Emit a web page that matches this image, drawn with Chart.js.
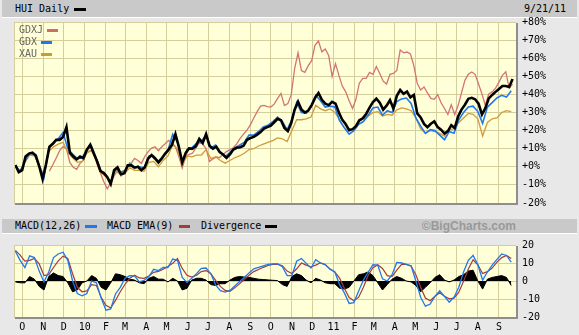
<!DOCTYPE html>
<html>
<head>
<meta charset="utf-8">
<script src="https://cdn.jsdelivr.net/npm/chart.js@4.4.1/dist/chart.umd.min.js"></script>
<style>
  html, body { margin: 0; padding: 0; background: #e8e8e8; }
  #wrap { position: relative; width: 579px; height: 335px; background: #e8e8e8; overflow: hidden;
          font-family: "DejaVu Sans Mono", monospace; font-size: 10px; color: #000; }
  .bar { position: absolute; left: 2px; right: 2px; background: #c9c9c9; border-bottom: 1px solid #fff; }
  .txt { position: absolute; line-height: 12px; white-space: pre; }
  .sw { position: absolute; height: 3px; }
  canvas { position: absolute; left: 0; }
</style>
</head>
<body>
<div id="wrap">
  <div class="bar" style="top:0;height:17px"></div>
  <div class="txt" style="left:15px;top:3px">HUI Daily</div>
  <div class="sw" style="left:74px;top:8px;width:12px;background:#000"></div>
  <div class="txt" style="left:524px;top:3px">9/21/11</div>

  <canvas id="priceChart" width="579" height="215" style="top:0"></canvas>

  <div class="txt" style="left:19px;top:24px;color:#666">GDXJ</div>
  <div class="sw" style="left:47px;top:29px;width:11px;background:#cf6b6b"></div>
  <div class="txt" style="left:19px;top:36px;color:#666">GDX</div>
  <div class="sw" style="left:41px;top:41px;width:11px;background:#1f78ee"></div>
  <div class="txt" style="left:19px;top:48px;color:#666">XAU</div>
  <div class="sw" style="left:41px;top:53px;width:11px;background:#cc9933"></div>

  <div class="bar" style="top:219px;height:14px"></div>
  <div class="txt" style="left:15px;top:220px">MACD(12,26)</div>
  <div class="sw" style="left:85px;top:225px;width:12px;background:#1f78ee"></div>
  <div class="txt" style="left:107px;top:220px">MACD EMA(9)</div>
  <div class="sw" style="left:179px;top:225px;width:11px;background:#a33b3b"></div>
  <div class="txt" style="left:201px;top:220px">Divergence</div>
  <div class="sw" style="left:265px;top:225px;width:12px;background:#000"></div>
  <div class="txt" style="right:63px;top:219px;font:bold 12px 'Liberation Sans', sans-serif;color:#999">©BigCharts.com</div>

  <canvas id="macdChart" width="579" height="102" style="top:233px"></canvas>
</div>

<script>
// Sep 21 2009 -> Sep 21 2011, % change vs. start
const startDate = new Date(2009, 8, 21);
const fineStep = 5;  // HUI and GDXJ sampled every 5 days
const stepDays = 7;  // other series weekly

const hui = [
  1.0, -3.0, -1.9, 5.7, 7.3, 7.8, 6.2, 0.3, -6.8, 1.4,
  11.1, 12.7, 14.9, 14.9, 16.5, 21.9, 7.8, 5.7, 4.1, 5.7,
  4.8, 9.5, 12.2, 7.5, 3.0, -2.4, -3.5, -5.7, -9.5, -1.9,
  -0.3, -4.1, -3.5, 0.8, 0.8, -0.5, 0, -1.9, -0.3, 4.6,
  6.5, 4.6, 2.4, 4.6, 7.3, 9.5, 12.2, 18.1, 11.1, 2.4,
  7.5, 10.2, 10.0, 11.4, 15.4, 13.2, 18.1, 11.6, 10.0, 11.1,
  8.1, 6.8, 4.9, 6.8, 9.5, 10.5, 10.8, 11.6, 14.9, 15.9,
  16.5, 17.8, 19.2, 21.1, 21.9, 22.7, 24.6, 26.5, 25.7, 21.4,
  19.7, 24.1, 31.6, 35.9, 31.6, 30.0, 31.1, 34.1, 38.1, 40.8,
  37.0, 34.9, 34.1, 35.9, 34.9, 30.0, 25.9, 23.5, 20.3, 20.8,
  22.4, 25.7, 26.8, 29.2, 32.7, 35.7, 37.6, 35.4, 31.6, 33.8,
  36.8, 32.2, 39.2, 42.4, 40.3, 41.6, 38.4, 39.7, 29.5, 27.3,
  23.7, 21.9, 23.8, 25.1, 21.9, 20.5, 18.4, 19.7, 23.0, 21.4,
  27.8, 31.6, 34.3, 37.6, 38.1, 37.3, 34.9, 28.9, 32.4, 37.8,
  39.7, 41.4, 43.0, 44.6, 44.6, 44.1, 48.5
];
// GDXJ starts trading in Nov 2009
const gdxj = [
  null, null, null, null, null, null, null, null, null, null,
  -2.4, 1.1, 4.9, 8.9, 11.1, 10.0, 2.4, -0.3, -1.4, 1.9,
  3.5, 8.4, 8.9, 7.8, 1.4, -3.5, -8.4, -12.2, -8.8, -5.1,
  -1.9, -5.1, -3.5, -0.3, 1.9, 4.6, 3.5, 1.9, 5.7, 8.4,
  10.3, 11.1, 8.9, 11.1, 12.7, 14.6, 13.2, 11.1, 5.7, -0.6,
  5.7, 6.8, 7.5, 10.5, 13.2, 12.7, 10.0, 3.0, 4.3, 5.4,
  5.1, 6.8, 8.4, 9.5, 10.5, 12.7, 15.7, 18.1, 20.3, 23.2,
  27.0, 30.5, 33.5, 33.9, 33.2, 33.0, 34.6, 37.8, 40.5, 33.8,
  34.9, 39.7, 54.3, 63.0, 53.2, 52.2, 55.9, 58.6, 67.3, 69.5,
  63.5, 65.1, 61.5, 50.0, 57.0, 50.5, 44.6, 41.4, 36.5, 32.2,
  37.3, 46.2, 48.9, 48.9, 52.2, 51.1, 55.4, 51.6, 47.3, 45.7,
  51.1, 51.6, 53.2, 64.6, 63.0, 63.4, 62.4, 55.9, 46.2, 42.4,
  44.1, 40.8, 37.8, 37.3, 39.9, 35.4, 32.2, 28.9, 34.3, 28.9,
  33.8, 40.8, 47.8, 51.1, 52.4, 51.1, 45.7, 40.3, 33.8, 40.3,
  41.4, 43.5, 46.8, 50.5, 52.5, 43.5, 45.7
];
const gdx = [
  0.5, -2.5, 3, 7.5, 7, 0.5, -6, 10, 13.5, 15.5,
  19, 10, 7, 4.5, 5, 9.5, 11, 4.5, -2.5, -4.5,
  -8.5, -1, -3, -2, 2, 0, 0, -0.5, 6, 6,
  3, 6, 9, 18, 13.5, 3, 9.5, 10.5, 13, 14,
  17.5, 10.5, 12, 8, 5.5, 8, 10.5, 12, 13.5, 17.5,
  17.5, 19.5, 22, 23, 25, 27.5, 25, 20.5, 26, 35.5,
  30, 29.5, 33, 39.5, 36.5, 33, 33.5, 33, 25.5, 21.5,
  18, 20, 23.5, 25, 28.5, 32.5, 33, 28.5, 31, 30,
  36, 37.5, 38, 35, 27, 22.5, 18.5, 20.5, 20, 17.5,
  15, 19.5, 18.5, 26, 30, 33, 33.5, 30.5, 24, 33,
  35.5, 38, 39.5, 38.5, 42
];
const xau = [
  0.5, -2, 2.5, 6.5, 6, 1, -5, 8.5, 11, 12.5,
  13.5, 8, 5, 2.5, 3, 7.5, 9, 3, -3.5, -5.5,
  -8, -2.5, -4, -3.5, -0.5, -2, -2, -2.5, 2.5, 3,
  0, 3.5, 6, 12, 10, 1, 6, 5.5, 6.5, 6.5,
  9.5, 4.5, 5.5, 3.5, 2, 3.5, 5, 6, 7.5, 9.5,
  10, 11.5, 12.5, 13.5, 14.5, 16, 15.5, 14, 20, 26,
  26, 26.5, 27.5, 34, 32, 31, 32, 30, 26, 21.5,
  19.5, 21, 25, 26.5, 28, 30, 30.5, 28, 29, 28.5,
  31.5, 32.5, 32, 31, 27, 21, 18.5, 20, 19.5, 18.5,
  17, 20.5, 21, 24.5, 27, 29.5, 29, 26.5, 17, 24.5,
  26.5, 27, 30, 31, 30.5
];

// MACD(12,26), EMA(9) and divergence of HUI, weekly
const macdLine = [
  16.5, 11.5, 7.5, 14, 13, 5.5, -0.5, 5, 13, 15,
  16, 11.5, 0, -7, -8.2, -7, 0, -1, -9.5, -16.2,
  -15.5, -7.2, -3.5, 1.5, 3, 2.8, -0.5, 0.3, 2.5, 6.5,
  5.8, 7.5, 7.5, 12.2, 11.5, 2, -0.8, 1.5, 4.1, 7,
  7.2, 4, -2.2, -5.4, -6.2, -5.2, -2.8, -0.4, 2, 4.5,
  6.8, 7.6, 8.4, 9.2, 9.5, 9.5, 8, 3, 3, 11,
  12.5, 9.8, 7.2, 11.8, 10, 9, 6.6, 5, -2, -6.6,
  -12.5, -12, -5.5, 0.5, 5, 9, 8.8, 1.2, 0, 3.5,
  10.3, 10, 9.2, 8.5, 0, -9, -14, -12.8, -8.5, -5.4,
  -8.5, -11.8, -9, -3.5, 5, 11.5, 14.2, 9, 0.5, 5,
  8.8, 12, 15, 14.2, 10.5
];
const signalLine = [
  17, 14.4, 11, 11.5, 12.5, 9.5, 3, 3.5, 7.5, 11.2,
  13.8, 12.5, 4, -3.5, -6, -5.5, -2, -2.5, -9, -13.5,
  -15, -10.8, -6, -1.8, 1.5, 3.2, 1.7, 1.5, 2.8, 4.8,
  5.3, 6.5, 8, 9.8, 12.5, 7, 3.2, 2.2, 3.2, 5.2,
  5.8, 4, 0.3, -3, -5.2, -5.8, -3.8, -1.6, 0.8, 3.2,
  5.2, 6.4, 7.6, 8.6, 9.2, 9.4, 8.5, 5.5, 4.2, 6.8,
  10, 8.8, 7.8, 8.8, 10.1, 9.2, 6.6, 5, 1.6, -4,
  -9.2, -11, -9, -3.5, 3.2, 7.4, 9, 7, 3, 2.5,
  6, 9.2, 9.2, 8.2, 3.5, -3.5, -9.5, -11, -8.5, -6.5,
  -8.5, -9.9, -9.5, -6.2, -0.2, 6.7, 11.8, 9, 4.2, 5.2,
  7.2, 10.5, 13, 14.2, 12.5
];
const divergence = [
  -0.5, -1, -1, 2.5, 1, -3, -5, 2.5, 4.5, 3,
  2.5, -1, -6, -5, -1, 0, 3, 1.5, -3.5, -5,
  -1, 4, 3.5, 2.5, 1, 0.5, -1, -1.5, 1.5, 2.5,
  1, 1, -0.5, 1.5, 0, -5, -4, 0.5, 1.5, 1.5,
  0.5, -2, -2.5, -1.5, -1.5, 0.5, 2, 2.5, 2.2, 2,
  1.5, 1, 0.8, 0.6, 0.4, 0.2, -2, -3, 2.5, 4,
  3, 0.5, -1, 1.5, 0.5, -1, -1.5, -1.5, -4, -4.5,
  -3.5, 0, 3.5, 4, 5, 3, -1, -5, -2, 1,
  2.5, 1.5, 0, -0.5, -2.5, -6, -3.5, -1, 2, 3.5,
  0.5, -0.5, 0.5, 2.5, 3.5, 5.5, 6, 0, -4.5, 1,
  2, 2.5, 3, 2, -2.5
];

// x axis month labels, starting Oct 2009
const monthLabels = ['O', 'N', 'D', '10', 'F', 'M', 'A', 'M', 'J', 'J', 'A', 'S',
                     'O', 'N', 'D', '11', 'F', 'M', 'A', 'M', 'J', 'J', 'A', 'S'];
const priceTicks = [-20, -10, 0, 10, 20, 30, 40, 50, 60, 70, 80];
const macdTicks = [-20, -10, 0, 10, 20];

const monthTicks = monthLabels.map((label, i) => ({
  value: Math.round((new Date(2009, 9 + i, 1) - startDate) / 864e5),
  label
}));
const toPoints = (arr, step) => arr.map((v, i) => ({ x: i * step, y: v }));

Chart.defaults.font.family = "'DejaVu Sans Mono', monospace";
Chart.defaults.font.size = 10;
Chart.defaults.color = '#000';

const GRID = '#d3ce9c';

// pale yellow plot area with a grey drop shadow on the right and bottom
const plotFrame = {
  id: 'plotFrame',
  beforeDraw(chart) {
    const { ctx, chartArea: a } = chart;
    ctx.save();
    ctx.fillStyle = '#ffffd8';
    ctx.fillRect(a.left, a.top, a.right - a.left, a.bottom - a.top);
    ctx.restore();
  },
  afterDraw(chart) {
    const { ctx, chartArea: a } = chart;
    ctx.save();
    ctx.strokeStyle = GRID;
    ctx.lineWidth = 1;
    ctx.beginPath();
    ctx.moveTo(a.left + 0.5, a.bottom);
    ctx.lineTo(a.left + 0.5, a.top + 0.5);
    ctx.lineTo(a.right, a.top + 0.5);
    ctx.stroke();
    ctx.fillStyle = '#8e8e8e';
    ctx.fillRect(a.right, a.top + 1, 2, a.bottom - a.top + 1);
    ctx.fillRect(a.left + 1, a.bottom, a.right - a.left + 1, 2);
    ctx.restore();
  }
};

function xScale(showLabels) {
  return {
    type: 'linear',
    min: -2,
    max: 735,
    afterBuildTicks: axis => { axis.ticks = monthTicks.map(t => ({ value: t.value })); },
    afterFit: axis => { axis.height = showLabels ? 18 : 0; },
    grid: { color: GRID, drawTicks: false },
    border: { display: false },
    ticks: {
      display: showLabels,
      autoSkip: false,
      maxRotation: 0,
      padding: 4,
      callback: (v) => {
        const t = monthTicks.find(m => m.value === v);
        return t ? t.label : '';
      }
    }
  };
}

function yScale(min, max, values, fmt) {
  return {
    position: 'right',
    min, max,
    afterBuildTicks: axis => { axis.ticks = values.map(v => ({ value: v })); },
    afterFit: axis => { axis.width = 63; },
    grid: { color: GRID, drawTicks: false },
    border: { display: false },
    ticks: { padding: 6, callback: fmt }
  };
}

const line = (label, data, step, color, width, order) => ({
  label, data: toPoints(data, step), borderColor: color, borderWidth: width,
  pointRadius: 0, tension: 0, fill: false, order, spanGaps: false
});

new Chart(document.getElementById('priceChart'), {
  type: 'line',
  data: {
    datasets: [
      line('HUI', hui, fineStep, '#000', 2.6, 0),
      line('GDX', gdx, stepDays, '#1f78ee', 1.6, 1),
      line('XAU', xau, stepDays, '#d19b3c', 1.3, 2),
      line('GDXJ', gdxj, fineStep, '#d27474', 1.3, 3)
    ]
  },
  options: {
    responsive: false,
    animation: false,
    devicePixelRatio: 1,
    layout: { padding: { left: 14, top: 22, right: 0, bottom: 7 } },
    plugins: { legend: { display: false }, tooltip: { enabled: false } },
    scales: {
      x: xScale(false),
      y: yScale(-20, 80, priceTicks, v => (v >= 0 ? '+' : '') + v + '%')
    }
  },
  plugins: [plotFrame]
});

new Chart(document.getElementById('macdChart'), {
  type: 'line',
  data: {
    datasets: [
      line('MACD(12,26)', macdLine, stepDays, '#1f78ee', 1.3, 0),
      line('MACD EMA(9)', signalLine, stepDays, '#a33b3b', 1.2, 1),
      {
        label: 'Divergence', data: toPoints(divergence, stepDays), borderColor: '#000', borderWidth: 1,
        backgroundColor: '#000', fill: 'origin', pointRadius: 0, tension: 0, order: 2
      }
    ]
  },
  options: {
    responsive: false,
    animation: false,
    devicePixelRatio: 1,
    layout: { padding: { left: 14, top: 6, right: 0, bottom: 0 } },
    plugins: { legend: { display: false }, tooltip: { enabled: false } },
    scales: {
      x: xScale(true),
      y: yScale(-20, 20, macdTicks, v => String(v))
    }
  },
  plugins: [plotFrame]
});
</script>
</body>
</html>
